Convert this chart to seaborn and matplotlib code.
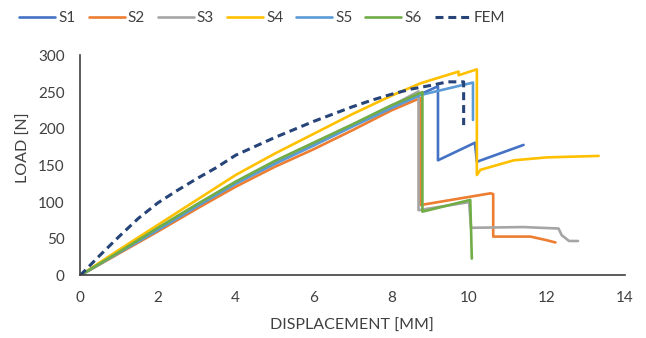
import numpy as np
import pandas as pd
import matplotlib
matplotlib.use('Agg')
import matplotlib.pyplot as plt
import seaborn as sns

# load-displacement data
s1_x = [0, 1, 2, 3, 4, 5, 6, 7, 8, 8.75, 9.2, 9.2, 10.15, 10.2, 11.4]
s1_y = [0, 31, 63, 95, 126, 153, 178, 204, 229, 247, 258, 157, 181, 155, 178]

s2_x = [0, 1, 2, 3, 4, 5, 6, 7, 8, 8.75, 8.75, 10.55, 10.62, 10.62, 11.58, 12.0, 12.22]
s2_y = [0, 30, 60, 91, 121, 148, 172, 198, 225, 242, 96, 112, 111, 53, 53, 48, 45]

s3_x = [0, 1, 2, 3, 4, 5, 6, 7, 8, 8.7, 8.7, 10.0, 10.05, 11.4, 12.3, 12.38, 12.57, 12.8]
s3_y = [0, 32, 64, 96, 127, 155, 180, 205, 231, 251, 89, 100, 65, 66, 64, 55, 47, 47]

s4_x = [0, 1, 2, 3, 4, 5, 6, 7, 8, 8.75, 9.73, 9.73, 10.2, 10.2, 10.29, 11.15, 12.0, 13.33]
s4_y = [0, 35, 69, 103, 137, 166, 193, 220, 245, 262, 278, 273, 281, 137, 144, 157, 161, 163]

s5_x = [0, 1, 2, 3, 4, 5, 6, 7, 8, 8.75, 10.1, 10.1]
s5_y = [0, 31, 62, 94, 125, 152, 177, 203, 228, 246, 263, 212]

s6_x = [0, 1, 2, 3, 4, 5, 6, 7, 8, 8.8, 8.8, 10.03, 10.07]
s6_y = [0, 32, 65, 97, 128, 156, 181, 206, 232, 250, 87, 103, 23]

fem_x = [0, 0.5, 1.0, 1.5, 2.0, 2.5, 3.0, 3.5, 4.0, 4.5, 5.0, 5.5, 6.0, 6.5, 7.0,
         7.5, 8.0, 8.5, 9.0, 9.45, 9.86, 9.86]
fem_y = [0, 27, 53, 78, 99, 116, 132, 147, 164, 176, 188, 199, 210, 220, 230,
         239, 247, 254, 259, 264, 264, 205]

series = [('S1', s1_x, s1_y, '#4472C4'),
          ('S2', s2_x, s2_y, '#ED7D31'),
          ('S3', s3_x, s3_y, '#A5A5A5'),
          ('S4', s4_x, s4_y, '#FFC000'),
          ('S5', s5_x, s5_y, '#5B9BD5'),
          ('S6', s6_x, s6_y, '#70AD47'),
          ('FEM', fem_x, fem_y, '#264478')]

sns.set_style('white')
plt.rcParams['font.family'] = ['Lato', 'DejaVu Sans']
plt.rcParams['font.size'] = 11

fig = plt.figure(figsize=(6.46, 3.38), dpi=100)
ax = fig.add_axes([0.124, 0.185, 0.843, 0.651])

for name, xs, ys, col in series:
    df = pd.DataFrame({'x': xs, 'y': ys})
    if name == 'FEM':
        sns.lineplot(data=df, x='x', y='y', sort=False, estimator=None, ax=ax,
                     color=col, linewidth=2.2, linestyle=(0, (2.6, 1.6)), label=name)
    else:
        sns.lineplot(data=df, x='x', y='y', sort=False, estimator=None, ax=ax,
                     color=col, linewidth=1.9, label=name)

ax.set_xlim(0, 14)
ax.set_ylim(0, 300)
ax.set_xticks(range(0, 15, 2))
ax.set_yticks(range(0, 301, 50))
ax.set_xlabel('DISPLACEMENT [MM]', fontsize=11.5, color='#404040', va='center')
ax.set_ylabel('LOAD [N]', fontsize=11.5, color='#404040', va='center')
ax.xaxis.set_label_coords(0.5, -0.231)
ax.yaxis.set_label_coords(-0.104, 0.58)
ax.tick_params(direction='in', length=4, width=1, colors='#404040', labelsize=11,
               labelcolor='#404040', pad=11)
for sp in ['top', 'right']:
    ax.spines[sp].set_visible(False)
for sp in ['left', 'bottom']:
    ax.spines[sp].set_color('#404040')
    ax.spines[sp].set_linewidth(1.2)

ax.legend(loc='center', bbox_to_anchor=(0.406, 0.947), bbox_transform=fig.transFigure,
          ncol=7, frameon=False, handlelength=2.35, columnspacing=0.85, handletextpad=0.2,
          fontsize=11, labelcolor='#404040')

plt.savefig('out.png', dpi=100)
